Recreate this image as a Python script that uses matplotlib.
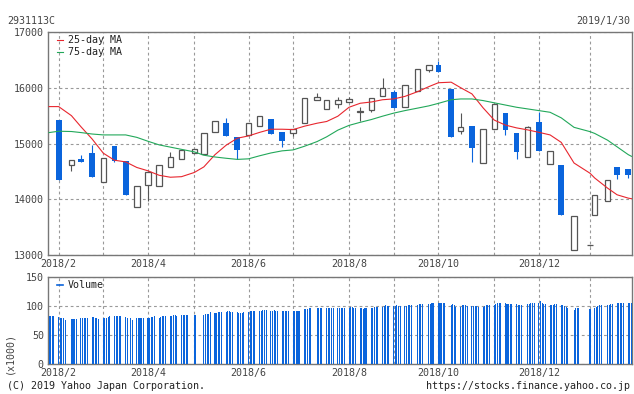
import matplotlib
matplotlib.use("Agg")
import matplotlib.pyplot as plt
from matplotlib.lines import Line2D
import pandas as pd

plt.rcParams['font.family'] = ['DejaVu Sans Mono']
plt.rcParams['font.size'] = 7.2

# jours fériés du marché japonais sur la période
holidays = ['2018-02-12', '2018-03-21', '2018-04-30', '2018-05-03', '2018-05-04',
            '2018-07-16', '2018-09-17', '2018-09-24', '2018-10-08', '2018-11-23',
            '2018-12-24', '2018-12-31', '2019-01-01', '2019-01-02', '2019-01-03',
            '2019-01-14']
days = pd.bdate_range('2018-01-30', '2019-01-30', freq='C', holidays=holidays)

# bougies hebdomadaires (premier jour de bourse de chaque semaine)
opens = [15420, 14610, 14725, 14830, 14310, 14955, 14685, 13860, 14255, 14235, 14577, 14718, 14826,
         14820, 15213, 15375, 15124, 15149, 15310, 15446, 15208, 15185, 15364, 15776, 15615, 15715,
         15750, 15565, 15597, 15859, 15925, 15662, 15948, 16324, 16409, 15979, 15231, 15321, 14658,
         15256, 15548, 15196, 14755, 15393, 14629, 14617, 13081, 13180, 13709, 13976, 14575, 14540]
highs = [15420, 14700, 14800, 14975, 14735, 14955, 14685, 14235, 14495, 14610, 14845, 14885, 14898,
         15185, 15405, 15465, 15124, 15364, 15495, 15446, 15208, 15256, 15817, 15900, 15781, 15841,
         15830, 15660, 15812, 16180, 15960, 16050, 16337, 16403, 16480, 15979, 15555, 15321, 15262,
         15710, 15548, 15196, 15310, 15570, 14867, 14617, 13703, 13180, 14074, 14342, 14575, 14540]
lows = [14350, 14515, 14675, 14405, 14310, 14670, 14085, 13860, 13960, 14235, 14577, 14718, 14826,
        14820, 15213, 15142, 14718, 15149, 15310, 15178, 14945, 15136, 15364, 15776, 15615, 15644,
        15750, 15410, 15572, 15859, 15643, 15662, 15948, 16283, 16283, 15124, 15172, 14670, 14658,
        15256, 15154, 14730, 14755, 14874, 14629, 13721, 13081, 13160, 13709, 13976, 14372, 14384]
closes = [14350, 14700, 14675, 14405, 14735, 14690, 14085, 14235, 14495, 14610, 14760, 14885, 14898,
          15185, 15405, 15142, 14891, 15364, 15495, 15178, 15052, 15256, 15817, 15829, 15781, 15781,
          15805, 15580, 15812, 15991, 15643, 16050, 16337, 16403, 16283, 15124, 15303, 14927, 15262,
          15710, 15249, 14855, 15298, 14874, 14867, 13721, 13703, 13180, 14074, 14342, 14443, 14443]

# moyennes mobiles : début, chaque bougie, fin
ma25 = [15662, 15662, 15500, 15300, 15080, 14826, 14700, 14670, 14570, 14510, 14430, 14395, 14405,
        14480, 14580, 14800, 14970, 15095, 15136, 15200, 15256, 15256, 15250, 15310, 15364, 15395,
        15490, 15650, 15722, 15745, 15785, 15800, 15845, 15930, 16020, 16090, 16100, 16000, 15890,
        15640, 15420, 15330, 15280, 15244, 15200, 15154, 15020, 14650, 14467, 14380, 14200, 14080,
        14020, 14010]
ma75 = [15196, 15220, 15215, 15196, 15170, 15154, 15154, 15154, 15110, 15040, 14975, 14935, 14895,
        14850, 14790, 14758, 14735, 14715, 14725, 14780, 14830, 14868, 14885, 14950, 15035, 15120,
        15240, 15325, 15380, 15430, 15490, 15545, 15590, 15635, 15675, 15720, 15785, 15799, 15799,
        15770, 15730, 15690, 15650, 15620, 15590, 15560, 15460, 15290, 15213, 15180, 15060, 14940,
        14800, 14770]

# volume quotidien (x1000), une ligne par semaine
volume = [
    82, 83, 83, 83,
    81, 80, 80, 79, 76,
    78, 77, 78, 78,
    79, 79, 80, 80, 80,
    81, 81, 80, 79, 78,
    79, 79, 80, 81, 82,
    82, 82, 82, 82, 82,
    81, 80, 79, 76,
    79, 79, 79, 79, 79,
    80, 80, 81, 81, 82,
    80, 81, 82, 82, 83,
    83, 83, 84, 84, 83,
    85, 85, 85, 85, 85,
    85, 85,
    85, 86, 86, 87, 89,
    88, 88, 89, 89, 90,
    90, 91, 91, 90, 89,
    89, 88, 88, 88, 89,
    90, 91, 92, 92, 92,
    91, 92, 93, 93, 93,
    92, 92, 93, 92, 91,
    91, 91, 91, 91, 91,
    92, 92, 92, 91, 92,
    94, 95, 95, 96, 96,
    96, 97, 97, 96,
    96, 96, 96, 96, 97,
    96, 97, 97, 97, 97,
    97, 98, 98, 97, 97,
    96, 96, 95, 97, 97,
    97, 97, 98, 98, 98,
    98, 100, 102, 100, 100,
    100, 100, 101, 100, 100,
    100, 100, 101, 102, 102,
    102, 104, 104, 104,
    104, 104, 105, 106,
    106, 105, 106, 106, 106,
    102, 103, 102, 99,
    99, 101, 102, 101, 100,
    100, 100, 100, 100, 98,
    99, 100, 101, 102, 102,
    102, 104, 105, 106, 106,
    106, 104, 104, 104, 104,
    104, 102, 102, 102,
    103, 104, 105, 106, 106,
    106, 108, 105, 104, 104,
    102, 102, 102, 103, 104,
    101, 101, 100, 99, 97,
    93, 96, 97, 97,
    95,
    97, 99, 100, 101, 101,
    101, 102, 103, 104,
    106, 105, 105, 106, 106,
    106, 106, 106,
]

# dates des bougies = premier jour de chaque semaine (sauf la semaine partielle du début)
s = pd.Series(days, index=days)
candle_dates = pd.DatetimeIndex(s.groupby(days.to_period('W-SUN')).first().values[1:])
ma_dates = [pd.Timestamp('2018-01-30')] + list(candle_dates) + [pd.Timestamp('2019-01-30')]

blue = '#0a64dc'
edge = '#555555'
red = '#e8262e'
green = '#22a85a'
txt = '#444444'
xlim = (pd.Timestamp('2018-01-29 08:00'), pd.Timestamp('2019-01-30 08:00'))

fig = plt.figure(figsize=(6.34, 3.94), dpi=100)
ax = fig.add_axes([48 / 634, 1 - 255 / 394, 584 / 634, 223 / 394])
axv = fig.add_axes([48 / 634, 1 - 364 / 394, 584 / 634, 87 / 394])

# bougies
for d, o, h, l, c in zip(candle_dates, opens, highs, lows, closes):
    if c >= o:
        ax.vlines(d, l, h, color=edge, linewidth=0.8, zorder=2)
        ax.bar(d, c - o, bottom=o, width=3.4, color='white', edgecolor=edge,
               linewidth=0.9, zorder=3)
    else:
        ax.vlines(d, l, h, color=blue, linewidth=0.8, zorder=2)
        ax.bar(d, o - c, bottom=c, width=3.6, color=blue, linewidth=0, zorder=3)

ax.plot(ma_dates, ma25, color=red, linewidth=0.8, label='25-day MA', zorder=4)
ax.plot(ma_dates, ma75, color=green, linewidth=0.8, label='75-day MA', zorder=4)

axv.bar(days, volume, width=0.65, color=blue, linewidth=0, zorder=3)

# graduations : premier point de chaque mois
firsts = pd.Series(candle_dates).groupby(candle_dates.to_period('M')).first()
tick_labels = [f'{d.year}/{d.month}' if d.month % 2 == 0 else '' for d in firsts]

for a in (ax, axv):
    a.set_xlim(*xlim)
    a.set_xticks(list(firsts))
    a.set_xticklabels(tick_labels)
    a.grid(True, color='#999999', linestyle=(0, (2.5, 2.5)), linewidth=0.8, zorder=1)
    a.set_axisbelow(True)
    a.tick_params(length=0, pad=3, colors=txt, labelsize=7.2)
    for sp in a.spines.values():
        sp.set_color('#777777')
        sp.set_linewidth(1)

ax.set_ylim(13000, 17000)
ax.set_yticks([13000, 14000, 15000, 16000, 17000])
axv.set_ylim(0, 150)
axv.set_yticks([0, 50, 100, 150])

leg = ax.legend(loc='upper left', bbox_to_anchor=(0.012, 0.995), frameon=False,
                handlelength=0.6, handletextpad=0.5, labelspacing=0.2,
                borderaxespad=0, borderpad=0.2, fontsize=7.2)
for t in leg.get_texts():
    t.set_color('#222222')
vol_handle = Line2D([], [], color=blue, linewidth=1.2)
legv = axv.legend([vol_handle], ['Volume'], loc='upper left', bbox_to_anchor=(0.012, 0.985),
                  frameon=False, handlelength=0.6, handletextpad=0.5, borderaxespad=0,
                  borderpad=0.2, fontsize=7.2)
for t in legv.get_texts():
    t.set_color('#222222')

fig.text(7 / 634, 1 - 21 / 394, '2931113C', ha='left', va='center', color=txt)
fig.text(630 / 634, 1 - 21 / 394, '2019/1/30', ha='right', va='center', color=txt)
fig.text(9 / 634, 1 - 353 / 394, '(x1000)', rotation=90, ha='center', va='center', color=txt)
fig.text(7 / 634, 1 - 386 / 394, '(C) 2019 Yahoo Japan Corporation.', ha='left', va='center',
         color='#222222')
fig.text(630 / 634, 1 - 386 / 394, 'https://stocks.finance.yahoo.co.jp', ha='right',
         va='center', color='#222222')

fig.savefig('out.png', dpi=100)
